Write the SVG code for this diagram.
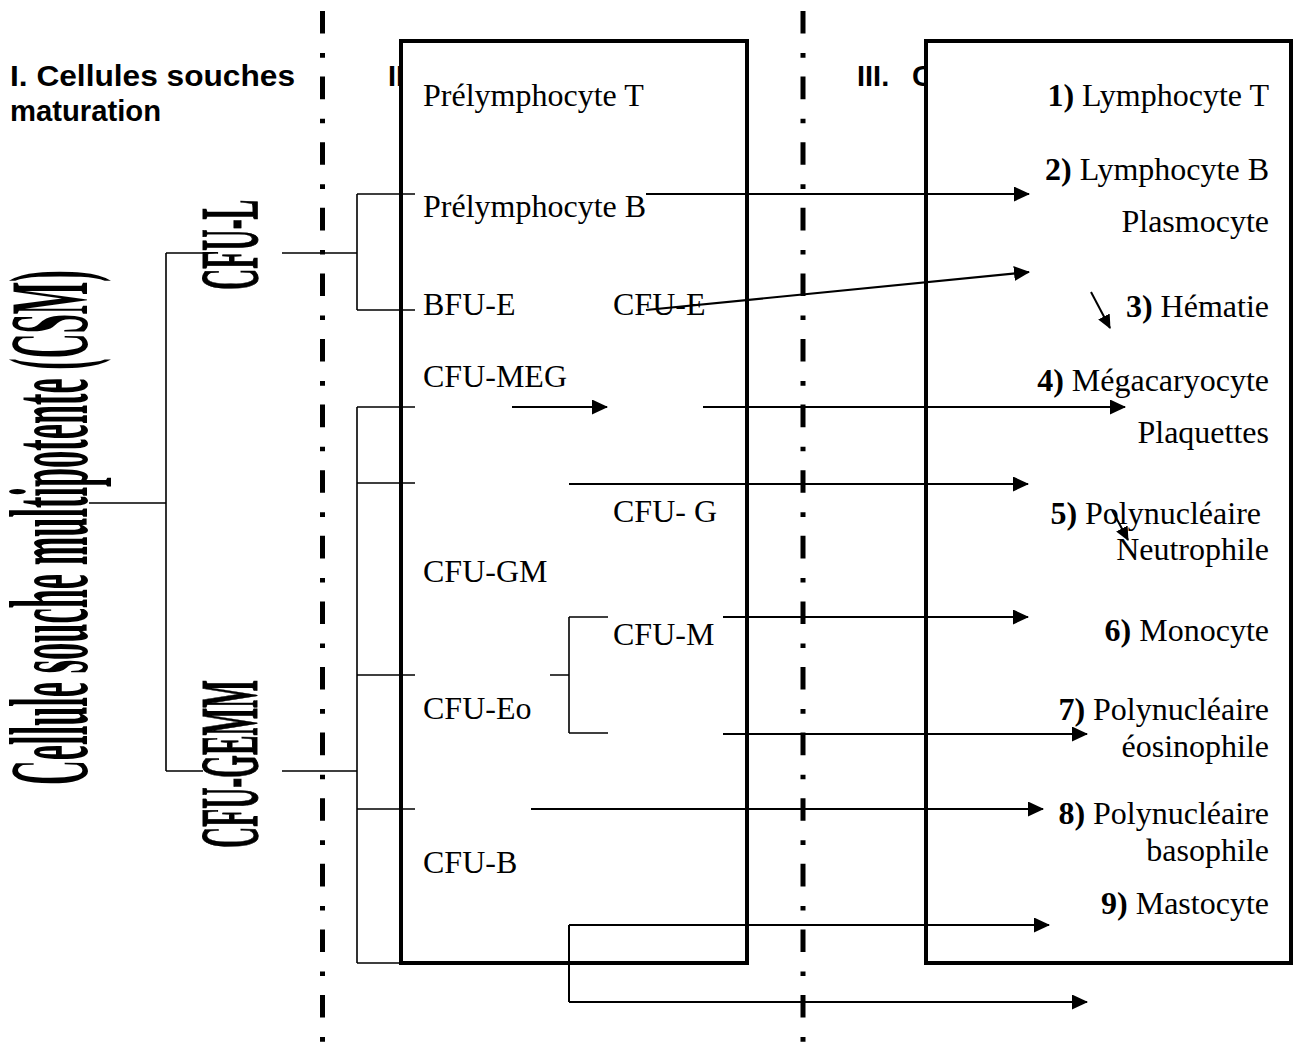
<svg xmlns="http://www.w3.org/2000/svg" width="1298" height="1045" viewBox="0 0 1298 1045">
<style>
.title{font-family:"Liberation Sans",Arial,sans-serif;font-weight:bold;font-size:29px}
.lbl{font-family:"Liberation Serif","Times New Roman",serif;font-size:32px}
.res{font-family:"Liberation Serif","Times New Roman",serif;font-size:32px;text-anchor:end}
.num{font-weight:bold}
.cond{font-family:"Liberation Serif","Times New Roman",serif;font-weight:bold}
.box{fill:#fff;stroke:#000;stroke-width:4}
.dash{stroke:#000;stroke-width:5;stroke-dasharray:22.6 19.5 4.6 18.9;fill:none}
.br{stroke:#000;stroke-width:1.6;fill:none}
.ar{stroke:#000;stroke-width:2.2;fill:none;marker-end:url(#ah)}
.ars{stroke:#000;stroke-width:2;fill:none;marker-end:url(#ahs)}
</style>
<defs>
<marker id="ah" markerUnits="userSpaceOnUse" markerWidth="16" markerHeight="15" refX="15" refY="7.5" orient="auto"><path d="M0,0 L16,7.5 L0,15 z" fill="#000"/></marker>
<marker id="ahs" markerUnits="userSpaceOnUse" markerWidth="14" markerHeight="13" refX="13" refY="6.5" orient="auto"><path d="M0,0 L14,6.5 L0,13 z" fill="#000"/></marker>
</defs>
<rect x="0" y="0" width="1298" height="1045" fill="#fff"/>
<g id="separators">
<line class="dash" x1="322.5" y1="11" x2="322.5" y2="1045"/>
<line class="dash" x1="803" y1="11" x2="803" y2="1045"/>
</g>
<g id="headings">
<text class="title" x="10" y="86" textLength="285" lengthAdjust="spacingAndGlyphs">I. Cellules souches</text>
<text class="title" x="10" y="121" textLength="151" lengthAdjust="spacingAndGlyphs">maturation</text>
<text class="title" x="388" y="86">II</text>
<text class="title" x="857" y="86">III.<tspan x="912">C</tspan></text>
</g>
<g id="csm">
<text class="cond" transform="translate(87,785) rotate(-90) scale(0.307,1)" font-size="112">Cellule souche multipotente (CSM)</text>
</g>
<g id="cfu-l">
<text class="cond" transform="translate(257,290) rotate(-90) scale(0.36,1)" font-size="82" stroke="#000" stroke-width="1">CFU-L</text>
</g>
<g id="cfu-gemm">
<text class="cond" transform="translate(257,848) rotate(-90) scale(0.358,1)" font-size="82" stroke="#000" stroke-width="1">CFU-GEMM</text>
</g>
<g id="progenitors">
<rect class="box" x="401" y="41" width="346" height="922"/>
<text class="lbl" x="423" y="106">Prélymphocyte T</text>
<text class="lbl" x="423" y="217">Prélymphocyte B</text>
<text class="lbl" x="423" y="315">BFU-E</text>
<text class="lbl" x="613" y="315">CFU-E</text>
<text class="lbl" x="423" y="387">CFU-MEG</text>
<text class="lbl" x="613" y="522">CFU- G</text>
<text class="lbl" x="423" y="582">CFU-GM</text>
<text class="lbl" x="613" y="645">CFU-M</text>
<text class="lbl" x="423" y="719">CFU-Eo</text>
<text class="lbl" x="423" y="873">CFU-B</text>
</g>
<g id="mature">
<rect class="box" x="926" y="41" width="365" height="922"/>
<text class="res" x="1269" y="106"><tspan class="num">1)</tspan> Lymphocyte T</text>
<text class="res" x="1269" y="180"><tspan class="num">2)</tspan> Lymphocyte B</text>
<text class="res" x="1269" y="232">Plasmocyte</text>
<text class="res" x="1269" y="317"><tspan class="num">3)</tspan> Hématie</text>
<text class="res" x="1269" y="391"><tspan class="num">4)</tspan> Mégacaryocyte</text>
<text class="res" x="1269" y="443">Plaquettes</text>
<text class="res" x="1261" y="524"><tspan class="num">5)</tspan> Polynucléaire</text>
<text class="res" x="1269" y="560">Neutrophile</text>
<text class="res" x="1269" y="641"><tspan class="num">6)</tspan> Monocyte</text>
<text class="res" x="1269" y="720"><tspan class="num">7)</tspan> Polynucléaire</text>
<text class="res" x="1269" y="757">éosinophile</text>
<text class="res" x="1269" y="824"><tspan class="num">8)</tspan> Polynucléaire</text>
<text class="res" x="1269" y="861">basophile</text>
<text class="res" x="1269" y="914"><tspan class="num">9)</tspan> Mastocyte</text>
</g>
<g id="connectors">
<path class="br" d="M89,503 H166 M166,253 V771 M166,253 H203 M166,771 H203"/>
<path class="br" d="M282,253 H357 M357,194 V310 M357,194 H415 M357,310 H415"/>
<path class="br" d="M282,771 H357 M357,407 V963 M357,407 H415 M357,483 H415 M357,675 H415 M357,809 H415 M357,963 H401"/>
<path class="br" d="M550,675 H569 M569,617 V733 M569,617 H608 M569,733 H608"/>
<path class="ar" d="M646,194 H1029"/>
<path class="ar" d="M646,310 L1029,272"/>
<path class="ar" d="M512,407 H607"/>
<path class="ar" d="M703,407 H1125"/>
<path class="ar" d="M569,484 H1028"/>
<path class="ar" d="M723,617 H1028"/>
<path class="ar" d="M723,734 H1087"/>
<path class="ar" d="M531,809 H1043"/>
<path class="br" d="M569,925 V1002" style="stroke-width:2"/>
<path class="ar" d="M569,925 H1049"/>
<path class="ar" d="M569,1002 H1087"/>
<path class="ars" d="M1091,292 L1110,328"/>
<path class="ars" d="M1112,510 L1128,540"/>
</g>
</svg>
